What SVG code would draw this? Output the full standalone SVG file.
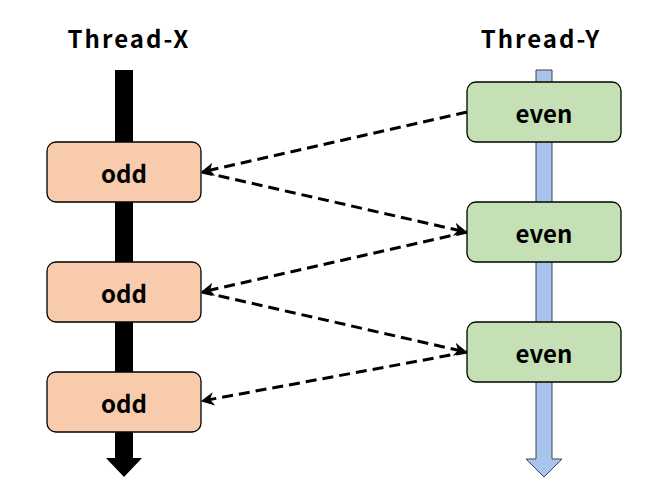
<svg xmlns="http://www.w3.org/2000/svg" width="665" height="493" viewBox="0 0 665 493">
<defs>
<style>
.title{font-family:"Noto Sans CJK SC","Noto Sans",sans-serif;font-size:24px;font-weight:bold;fill:#000;text-anchor:middle;letter-spacing:2px;}
.lbl{font-family:"Noto Sans CJK SC","Noto Sans",sans-serif;font-size:24px;font-weight:bold;fill:#000;text-anchor:middle;dominant-baseline:central;}
.odd{fill:#F8CBAD;stroke:#000;stroke-width:1.3;}
.even{fill:#C5E0B4;stroke:#000;stroke-width:1.3;}
.dash{fill:none;stroke:#000;stroke-width:3;stroke-dasharray:11,6;}
</style>
<marker id="ah" viewBox="0 0 10 10" refX="9" refY="5" markerWidth="4.5" markerHeight="4.5" orient="auto" markerUnits="strokeWidth">
<path d="M0,0 L10,5 L0,10 L3,5 Z" fill="#000"/>
</marker>
</defs>
<rect width="665" height="493" fill="#fff"/>
<text class="title" x="129" y="48">Thread-X</text>
<text class="title" x="541" y="48">Thread-Y</text>
<g id="threadX">
<path d="M115,70 L133,70 L133,458 L142,458 L124,477 L106,458 L115,458 Z" fill="#000"/>
</g>
<g id="threadY">
<path d="M536,70 L552,70 L552,459 L562,459 L544,477 L526,459 L536,459 Z" fill="#A9C4EB" stroke="#3A4250" stroke-width="1"/>
</g>
<g id="odd1"><rect class="odd" x="47" y="142" width="154" height="60" rx="9"/><text class="lbl" x="124" y="172">odd</text></g>
<g id="odd2"><rect class="odd" x="47" y="262" width="154" height="60" rx="9"/><text class="lbl" x="124" y="292">odd</text></g>
<g id="odd3"><rect class="odd" x="47" y="372" width="154" height="60" rx="9"/><text class="lbl" x="124" y="402">odd</text></g>
<g id="even1"><rect class="even" x="467" y="82" width="154" height="60" rx="9"/><text class="lbl" x="544" y="112">even</text></g>
<g id="even2"><rect class="even" x="467" y="202" width="154" height="60" rx="9"/><text class="lbl" x="544" y="232">even</text></g>
<g id="even3"><rect class="even" x="467" y="322" width="154" height="60" rx="9"/><text class="lbl" x="544" y="352">even</text></g>
<g id="connectors">
<line class="dash" x1="467" y1="112" x2="202" y2="172" marker-end="url(#ah)"/>
<line class="dash" x1="202" y1="172" x2="466" y2="232" marker-end="url(#ah)"/>
<line class="dash" x1="467" y1="232" x2="202" y2="292" marker-end="url(#ah)"/>
<line class="dash" x1="202" y1="292" x2="466" y2="352" marker-end="url(#ah)"/>
<line class="dash" x1="467" y1="352" x2="202" y2="401" marker-end="url(#ah)"/>
</g>
</svg>
